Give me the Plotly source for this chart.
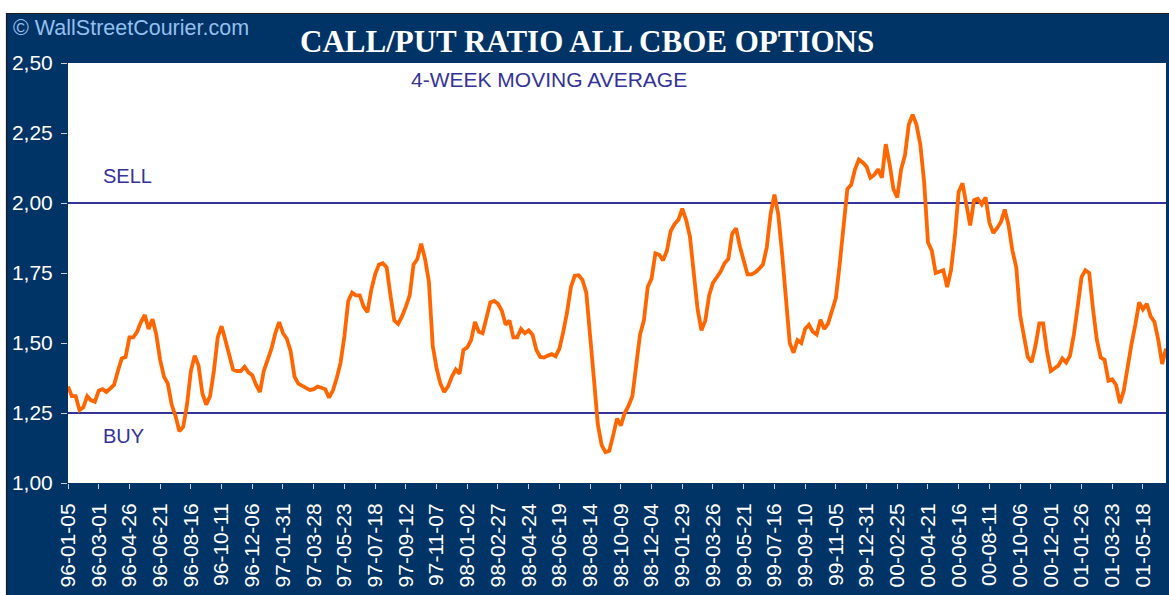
import plotly.graph_objects as go
import pandas as pd

# ---- data -------------------------------------------------------------
start_date = "1996-01-05"  # first weekly observation

ratio = [
    1.345, 1.31, 1.31, 1.26, 1.27, 1.31, 1.295, 1.29, 1.33, 1.335,
    1.325, 1.34, 1.35, 1.40, 1.445, 1.45, 1.52, 1.52, 1.54, 1.575,
    1.60, 1.55, 1.585, 1.53, 1.44, 1.38, 1.355, 1.28, 1.24, 1.185,
    1.20, 1.28, 1.40, 1.455, 1.42, 1.32, 1.28, 1.31, 1.40, 1.52,
    1.56, 1.51, 1.45, 1.405, 1.40, 1.40, 1.415, 1.395, 1.385, 1.35,
    1.325, 1.40, 1.44, 1.48, 1.535, 1.575, 1.535, 1.515, 1.47, 1.38,
    1.355, 1.348, 1.34, 1.332, 1.335, 1.344, 1.34, 1.335, 1.305, 1.33,
    1.375, 1.43, 1.525, 1.65, 1.68, 1.67, 1.67, 1.63, 1.61, 1.69,
    1.745, 1.78, 1.785, 1.77, 1.67, 1.58, 1.568, 1.595, 1.63, 1.67,
    1.78, 1.80, 1.855, 1.80, 1.72, 1.49, 1.41, 1.355, 1.325, 1.345,
    1.38, 1.405, 1.39, 1.475, 1.484, 1.51, 1.575, 1.54, 1.535, 1.59,
    1.645, 1.65, 1.64, 1.615, 1.565, 1.58, 1.52, 1.52, 1.55, 1.535,
    1.545, 1.53, 1.475, 1.45, 1.448, 1.455, 1.46, 1.452, 1.48, 1.54,
    1.61, 1.70, 1.74, 1.742, 1.725, 1.68, 1.54, 1.37, 1.21, 1.135,
    1.11, 1.115, 1.17, 1.23, 1.205, 1.25, 1.275, 1.31, 1.42, 1.53,
    1.58, 1.70, 1.73, 1.82, 1.815, 1.795, 1.83, 1.90, 1.925, 1.94,
    1.98, 1.94, 1.88, 1.74, 1.62, 1.545, 1.58, 1.67, 1.715, 1.735,
    1.755, 1.785, 1.80, 1.89, 1.91, 1.845, 1.80, 1.745, 1.745, 1.752,
    1.765, 1.78, 1.84, 1.96, 2.03, 1.96, 1.82, 1.675, 1.50, 1.465,
    1.51, 1.50, 1.55, 1.565, 1.54, 1.53, 1.583, 1.55, 1.57, 1.615,
    1.66, 1.78, 1.92, 2.05, 2.065, 2.12, 2.155, 2.145, 2.13, 2.09,
    2.10, 2.12, 2.09, 2.21, 2.14, 2.05, 2.02, 2.12, 2.17, 2.28,
    2.315, 2.28, 2.21, 2.075, 1.86, 1.83, 1.75, 1.755, 1.76, 1.70,
    1.76, 1.88, 2.04, 2.07, 2.00, 1.92, 2.01, 2.015, 1.995, 2.02,
    1.93, 1.893, 1.91, 1.932, 1.977, 1.92, 1.83, 1.77, 1.60, 1.52,
    1.45, 1.432, 1.49, 1.57, 1.57, 1.47, 1.40, 1.41, 1.42, 1.445,
    1.43, 1.455, 1.53, 1.63, 1.735, 1.76, 1.75, 1.62, 1.51, 1.448,
    1.44, 1.365, 1.37, 1.35, 1.285, 1.33, 1.42, 1.495, 1.565, 1.645,
    1.62, 1.64, 1.595, 1.575, 1.51, 1.425, 1.48,
]

tick_labels = [
    "96-01-05", "96-03-01", "96-04-26", "96-06-21", "96-08-16", "96-10-11",
    "96-12-06", "97-01-31", "97-03-28", "97-05-23", "97-07-18", "97-09-12",
    "97-11-07", "98-01-02", "98-02-27", "98-04-24", "98-06-19", "98-08-14",
    "98-10-09", "98-12-04", "99-01-29", "99-03-26", "99-05-21", "99-07-16",
    "99-09-10", "99-11-05", "99-12-31", "00-02-25", "00-04-21", "00-06-16",
    "00-08-11", "00-10-06", "00-12-01", "01-01-26", "01-03-23", "01-05-18",
]

y_ticks = [1.00, 1.25, 1.50, 1.75, 2.00, 2.25, 2.50]
sell_level = 2.00
buy_level = 1.25

# ---- styling ----------------------------------------------------------
NAVY = "#003366"
ORANGE = "#FF6600"
INDIGO = "#333399"
W, H = 1169, 595
L, R, T, B = 68, 3, 63, 112
PW, PH = W - L - R, H - T - B


def px_x(px):
    return (px - L) / PW


def px_y(py):
    return (H - B - py) / PH


dates = pd.date_range(start_date, periods=len(ratio), freq="7D")
tick_dates = list(dates[::8][: len(tick_labels)])

fig = go.Figure()
fig.add_trace(
    go.Scatter(
        x=dates,
        y=ratio,
        mode="lines",
        line=dict(color=ORANGE, width=3.8),
        hoverinfo="x+y",
        showlegend=False,
    )
)

shapes = []
for lvl in (sell_level, buy_level):
    shapes.append(
        dict(type="line", xref="x", yref="y", x0=dates[0], x1=dates[-1],
             y0=lvl, y1=lvl, line=dict(color=INDIGO, width=2), layer="below")
    )
# white margins of the picture + thin dark border of the frame
shapes.append(dict(type="rect", xref="paper", yref="paper",
                   x0=px_x(-2), x1=px_x(W + 2), y0=px_y(13), y1=px_y(-2),
                   fillcolor="white", line=dict(width=0), layer="above"))
shapes.append(dict(type="rect", xref="paper", yref="paper",
                   x0=px_x(-2), x1=px_x(6), y0=px_y(H + 2), y1=px_y(-2),
                   fillcolor="white", line=dict(width=0), layer="above"))
shapes.append(dict(type="rect", xref="paper", yref="paper",
                   x0=px_x(6.5), x1=px_x(W + 2), y0=px_y(H + 2), y1=px_y(13.5),
                   fillcolor="rgba(0,0,0,0)", line=dict(color="#1a1a1a", width=1.2),
                   layer="above"))

SANS = "Liberation Sans, Arial, sans-serif"
annotations = [
    dict(text="CALL/PUT RATIO ALL CBOE OPTIONS", xref="paper", yref="paper",
         x=px_x(587), y=px_y(42), xanchor="center", yanchor="middle",
         showarrow=False,
         font=dict(family="Liberation Serif, Times New Roman, serif", size=31,
                   color="white", weight="bold")),
    dict(text="© WallStreetCourier.com", xref="paper", yref="paper",
         x=px_x(11), y=px_y(28), xanchor="left", yanchor="middle",
         showarrow=False,
         font=dict(family=SANS, size=21.5, color="#95BFEE")),
    dict(text="4-WEEK MOVING AVERAGE", xref="paper", yref="paper",
         x=px_x(549), y=px_y(80), xanchor="center", yanchor="middle",
         showarrow=False,
         font=dict(family=SANS, size=21, color=INDIGO)),
    dict(text="SELL", xref="paper", yref="paper",
         x=px_x(101), y=px_y(176), xanchor="left", yanchor="middle",
         showarrow=False,
         font=dict(family=SANS, size=20, color=INDIGO)),
    dict(text="BUY", xref="paper", yref="paper",
         x=px_x(101), y=px_y(436), xanchor="left", yanchor="middle",
         showarrow=False,
         font=dict(family=SANS, size=20, color=INDIGO)),
]

fig.update_layout(
    width=W, height=H,
    margin=dict(l=L, r=R, t=T, b=B, pad=0),
    paper_bgcolor=NAVY,
    plot_bgcolor="white",
    separators=",.",
    shapes=shapes,
    annotations=annotations,
    showlegend=False,
    xaxis=dict(
        type="date",
        range=[dates[0], dates[-1]],
        tickmode="array",
        tickvals=tick_dates,
        ticktext=tick_labels,
        tickangle=-90,
        ticks="outside", ticklen=5, tickcolor="#d0d0d0", tickwidth=1,
        tickfont=dict(family=SANS, size=21, color="white"),
        ticklabelstandoff=6,
        automargin=False,
        showgrid=False, zeroline=False, showline=False,
        fixedrange=True,
    ),
    yaxis=dict(
        range=[1.0, 2.5],
        tickmode="array",
        tickvals=y_ticks,
        tickformat=".2f",
        ticks="outside", ticklen=6, tickcolor="#d0d0d0", tickwidth=1,
        tickfont=dict(family=SANS, size=21, color="white"),
        ticklabelstandoff=4,
        automargin=False,
        showgrid=False, zeroline=False, showline=False,
        fixedrange=True,
    ),
)

fig.write_html(
    "out.html",
    config={"displayModeBar": False},
    post_script="document.body.style.margin='0';document.body.style.overflow='hidden';",
)
